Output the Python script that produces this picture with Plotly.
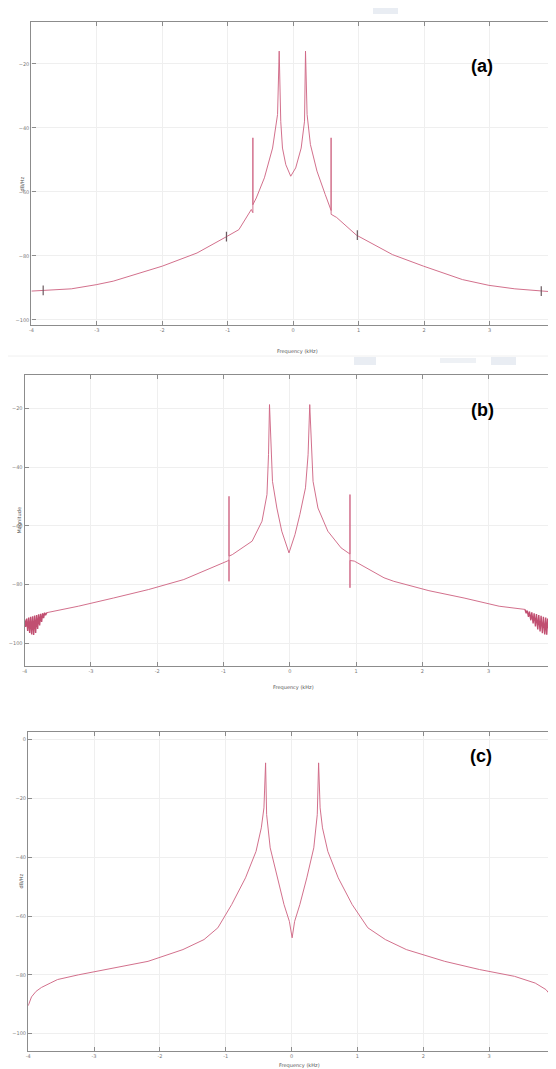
import plotly.graph_objects as go

W, H = 556, 1069
RM = 6  # right margin (px)

# ---------------- data ----------------
x_ticks = [-4, -3, -2, -1, 0, 1, 2, 3, 4]
x_ticktext = ["-4", "-3", "-2", "-1", "0", "1", "2", "3", "4"]

# Panel (a)
fa = [-4.00, -3.82, -3.39, -3.01, -2.75, -2.00, -1.47, -1.02, -0.83, -0.64,
      -0.616, -0.616, -0.616, -0.564, -0.44, -0.315, -0.239, -0.214, -0.19, -0.164,
      -0.113, -0.038, 0.038, 0.122, 0.173, 0.188, 0.212, 0.263, 0.363, 0.489,
      0.564, 0.579, 0.579, 0.579, 0.664, 0.965, 1.517, 1.99, 2.585, 2.99,
      3.386, 3.79, 4.00]
va = [-91.0, -90.8, -90.3, -89.0, -87.9, -83.2, -79.1, -74.0, -71.8, -65.5,
      -66.5, -43.1, -64.0, -61.9, -55.6, -46.3, -35.8, -16.0, -38.0, -46.3,
      -51.5, -55.1, -52.5, -46.3, -37.9, -16.0, -35.8, -45.2, -53.5, -60.8,
      -65.0, -65.8, -43.1, -67.0, -68.0, -73.5, -79.6, -83.2, -87.4, -89.2,
      -90.3, -91.0, -91.3]
mark_fa = [-3.82, -1.02, 0.98, 3.79]
mark_va = [-90.8, -74.0, -73.5, -91.0]
ya_ticks = [-100, -80, -60, -40, -20]

# Panel (b)
fb = [-3.667, -3.19, -2.66, -2.13, -1.60, -1.29, -1.075, -0.944, -0.918, -0.918,
      -0.918, -0.918, -0.868, -0.569, -0.42, -0.345, -0.322, -0.307, -0.262, -0.196,
      -0.122, -0.013, 0.077, 0.151, 0.236, 0.275, 0.30, 0.35, 0.424, 0.573,
      0.773, 0.872, 0.907, 0.907, 0.907, 0.907, 0.972, 1.42, 1.568, 2.098,
      2.628, 3.157, 3.548]
vb = [-89.6, -87.4, -84.6, -81.7, -78.3, -75.4, -73.2, -72.0, -71.6, -78.9,
      -49.9, -70.3, -69.8, -65.2, -58.4, -49.3, -35.7, -18.6, -44.8, -53.9,
      -61.8, -69.2, -63.0, -56.1, -47.0, -35.7, -18.6, -44.8, -53.9, -61.8,
      -67.5, -69.2, -69.6, -49.3, -81.1, -71.8, -72.0, -77.7, -78.9, -82.1,
      -84.6, -87.4, -88.5]
# noisy wedge at both ends of (b)
wl_f = [-4.00, -3.985, -3.97, -3.955, -3.94, -3.925, -3.91, -3.895, -3.88, -3.865,
        -3.85, -3.835, -3.82, -3.805, -3.79, -3.775, -3.76, -3.745, -3.73, -3.715,
        -3.70, -3.685, -3.667]
wl_v = [-92.0, -94.5, -91.6, -95.8, -91.3, -96.5, -91.0, -97.0, -90.8, -97.2,
        -90.6, -96.5, -90.4, -95.2, -90.2, -94.0, -90.0, -92.8, -89.8, -91.5,
        -89.6, -90.5, -89.6]
wr_f = [3.548, 3.565, 3.58, 3.60, 3.615, 3.635, 3.65, 3.67, 3.685, 3.705,
        3.72, 3.74, 3.755, 3.775, 3.79, 3.81, 3.825, 3.845, 3.86, 3.875,
        3.89, 3.91, 3.925, 3.945, 3.96, 3.975, 3.99, 4.00]
wr_v = [-88.5, -89.8, -88.9, -91.0, -89.2, -92.2, -89.5, -93.3, -89.8, -94.3,
        -90.1, -95.3, -90.4, -96.0, -90.7, -96.6, -91.0, -97.0, -91.3, -97.1,
        -91.6, -96.3, -91.9, -95.3, -92.2, -94.2, -92.4, -93.0]
yb_ticks = [-100, -80, -60, -40, -20]

# Panel (c)
fc = [-4.00, -3.95, -3.88, -3.80, -3.665, -3.555, -3.24, -2.71, -2.18, -1.65,
      -1.33, -1.12, -0.91, -0.70, -0.54, -0.46, -0.42, -0.395, -0.379, -0.325,
      -0.22, -0.115, -0.034, 0.008, 0.046, 0.125, 0.231, 0.337, 0.39, 0.41,
      0.433, 0.469, 0.55, 0.708, 0.92, 1.158, 1.424, 1.742, 2.325, 2.855,
      3.385, 3.70, 3.862, 3.968, 4.00]
vc = [-90.5, -87.5, -85.6, -84.3, -82.8, -81.6, -80.0, -77.8, -75.4, -71.4,
      -68.0, -64.0, -56.1, -47.0, -38.0, -30.0, -23.2, -7.9, -25.5, -36.8,
      -47.0, -56.1, -61.8, -67.4, -61.8, -56.1, -47.0, -36.8, -25.5, -7.9,
      -23.2, -30.0, -38.0, -47.0, -56.1, -64.0, -68.0, -71.4, -75.4, -78.2,
      -80.5, -82.8, -85.0, -87.9, -90.1]
yc_ticks = [-100, -80, -60, -40, -20, 0]

panel_labels = ["(a)", "(b)", "(c)"]
x_title = "Frequency (kHz)"
y_titles = ["dB/Hz", "Magnitude", "dB/Hz"]

# ---------------- layout helpers (pixel -> paper) ----------------
def px(x):
    return x / (W - RM)

def py(y):
    return 1 - y / H

LINE = "rgba(208,104,134,0.95)"
WEDGE = "rgba(190,70,105,0.95)"
GRID = "#efefef"
AXC = "#8c8c8c"
TICKF = dict(size=5, color="#7a7a7a", family="DejaVu Sans")

fig = go.Figure()

fig.add_trace(go.Scatter(x=fa, y=va, mode="lines", line=dict(color=LINE, width=1),
                         xaxis="x", yaxis="y", showlegend=False))
fig.add_trace(go.Scatter(x=mark_fa, y=mark_va, mode="markers",
                         marker=dict(symbol="line-ns", size=7, line=dict(width=1.2, color="#6a5a60")),
                         xaxis="x", yaxis="y", showlegend=False))

fig.add_trace(go.Scatter(x=fb, y=vb, mode="lines", line=dict(color=LINE, width=1),
                         xaxis="x2", yaxis="y2", showlegend=False))
fig.add_trace(go.Scatter(x=wl_f, y=wl_v, mode="lines", line=dict(color=WEDGE, width=1.4),
                         xaxis="x2", yaxis="y2", showlegend=False))
fig.add_trace(go.Scatter(x=wr_f, y=wr_v, mode="lines", line=dict(color=WEDGE, width=1.4),
                         xaxis="x2", yaxis="y2", showlegend=False))

fig.add_trace(go.Scatter(x=fc, y=vc, mode="lines", line=dict(color=LINE, width=1),
                         xaxis="x3", yaxis="y3", showlegend=False))

def xax(dom, anchor):
    return dict(domain=dom, range=[-4, 4], tickvals=x_ticks, ticktext=x_ticktext,
                showgrid=True, gridcolor=GRID, gridwidth=1, zeroline=False,
                showline=True, linecolor=AXC, linewidth=1.3, mirror="ticks",
                ticks="inside", ticklen=4, tickcolor=AXC, tickfont=TICKF,
                ticklabeloverflow="allow",
                automargin=False, anchor=anchor, fixedrange=True)

def yax(dom, rng, tv, anchor):
    return dict(domain=dom, range=rng, tickvals=tv,
                showgrid=True, gridcolor=GRID, gridwidth=1, zeroline=False,
                showline=True, linecolor=AXC, linewidth=1.3, mirror="ticks",
                ticks="inside", ticklen=4, tickcolor=AXC, tickfont=TICKF,
                automargin=False, anchor=anchor, fixedrange=True)

fig.update_layout(
    width=W, height=H, autosize=False,
    margin=dict(l=0, r=RM, t=0, b=0),
    paper_bgcolor="white", plot_bgcolor="white",
    xaxis=xax([px(23.4), px(547)], "y"),
    yaxis=yax([py(317), py(14)], [-101.6, -6.9], ya_ticks, "x"),
    xaxis2=xax([px(16.7), px(547)], "y2"),
    yaxis2=yax([py(657.7), py(366.7)], [-107.7, -8.4], yb_ticks, "x2"),
    xaxis3=xax([px(20.2), px(547)], "y3"),
    yaxis3=yax([py(1043.3), py(724)], [-106.0, 2.6], yc_ticks, "x3"),
)

ann = []
# panel labels
for lab, (lx, ly) in zip(panel_labels, [(487, 46), (488, 402), (486, 760)]):
    ann.append(dict(text="<b>%s</b>" % lab, x=px(lx), y=py(ly), xref="paper", yref="paper",
                    showarrow=False, font=dict(size=18, color="black", family="Liberation Sans")))
# x titles
for (tx, ty) in [(289, 338), (285, 679), (291, 1063)]:
    ann.append(dict(text=x_title, x=px(tx), y=py(ty), xref="paper", yref="paper",
                    showarrow=False, font=dict(size=5, color="#555", family="DejaVu Sans")))
# y titles
for t, (tx, ty) in zip(y_titles, [(9, 167), (5, 512), (7, 883)]):
    ann.append(dict(text=t, x=px(tx), y=py(ty), xref="paper", yref="paper", textangle=-90,
                    showarrow=False, font=dict(size=5, color="#555", family="DejaVu Sans")))
fig.update_layout(annotations=ann)

# faint page artefacts (light separators / watermark blobs)
shapes = [
    dict(type="line", xref="paper", yref="paper", x0=0, x1=1, y0=py(348), y1=py(348),
         line=dict(color="#f0f0f0", width=1)),
    dict(type="rect", xref="paper", yref="paper", x0=px(365), x1=px(390), y0=py(6), y1=py(0),
         fillcolor="#e9edf3", line=dict(width=0)),
    dict(type="rect", xref="paper", yref="paper", x0=px(346), x1=px(368), y0=py(357), y1=py(349),
         fillcolor="#e9edf3", line=dict(width=0)),
    dict(type="rect", xref="paper", yref="paper", x0=px(432), x1=px(468), y0=py(355), y1=py(350),
         fillcolor="#eef1f5", line=dict(width=0)),
    dict(type="rect", xref="paper", yref="paper", x0=px(483), x1=px(508), y0=py(357), y1=py(349),
         fillcolor="#e9edf3", line=dict(width=0)),
]
fig.update_layout(shapes=shapes)

fig.write_html("out.html")
